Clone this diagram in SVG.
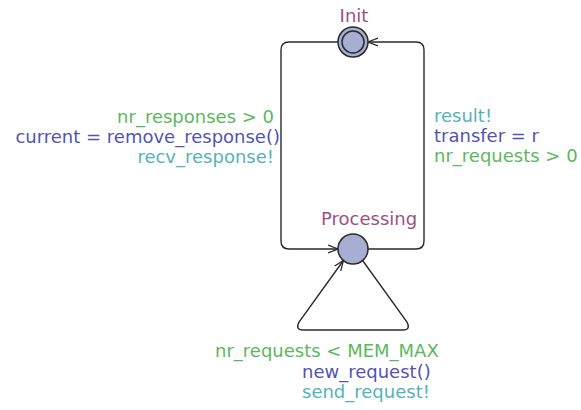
<svg xmlns="http://www.w3.org/2000/svg" width="581" height="410" viewBox="0 0 581 410">
  <style>
    text { font-family: "DejaVu Sans", "Liberation Sans", sans-serif; font-size: 18px; }
    .name { fill: #a0507f; }
    .guard { fill: #5cb85c; }
    .update { fill: #5353b3; }
    .sync { fill: #55b3b8; }
    .loc { fill: #a6aed2; stroke: #2a2a2a; stroke-width: 1.5; }
    .edge { fill: none; stroke: #2a2a2a; stroke-width: 1.4; marker-end: url(#arrow); }
  </style>
  <defs>
    <marker id="arrow" viewBox="0 0 10 10" refX="10" refY="5" markerWidth="10" markerHeight="10" markerUnits="userSpaceOnUse" orient="auto">
      <path d="M0,1 L10,5 L0,9" fill="none" stroke="#2a2a2a" stroke-width="1.3"/>
    </marker>
  </defs>
  <rect width="581" height="410" fill="#ffffff"/>

  <g id="edges">
    <!-- Init -> Processing (left side) -->
    <path class="edge" d="M338,42 H289 Q281,42 281,50 V241 Q281,249 289,249 H338"/>
    <!-- Processing -> Init (right side) -->
    <path class="edge" d="M368,249 H416 Q424,249 424,241 V50 Q424,42 416,42 H368"/>
    <!-- Processing self loop -->
    <path class="edge" d="M362.6,260.5 L407,322 Q411,330 403,330 H303 Q295,330 299,322 L343.4,260.5"/>
  </g>

  <g id="init">
    <circle class="loc" cx="353" cy="42" r="15"/>
    <circle cx="353" cy="42" r="11" fill="none" stroke="#2a2a2a" stroke-width="1.5"/>
    <text class="name" x="354" y="22" text-anchor="middle">Init</text>
  </g>

  <g id="processing">
    <circle class="loc" cx="353" cy="249" r="15"/>
    <text class="name" x="321" y="225">Processing</text>
  </g>

  <g id="label-left">
    <text class="guard" x="274" y="123" text-anchor="end">nr_responses &gt; 0</text>
    <text class="update" x="280" y="143" text-anchor="end">current = remove_response()</text>
    <text class="sync" x="274" y="163" text-anchor="end">recv_response!</text>
  </g>

  <g id="label-right">
    <text class="sync" x="434" y="122">result!</text>
    <text class="update" x="434" y="142">transfer = r</text>
    <text class="guard" x="434" y="162">nr_requests &gt; 0</text>
  </g>

  <g id="label-loop">
    <text class="guard" x="215" y="357">nr_requests &lt; MEM_MAX</text>
    <text class="update" x="302" y="378">new_request()</text>
    <text class="sync" x="302" y="398">send_request!</text>
  </g>
</svg>
